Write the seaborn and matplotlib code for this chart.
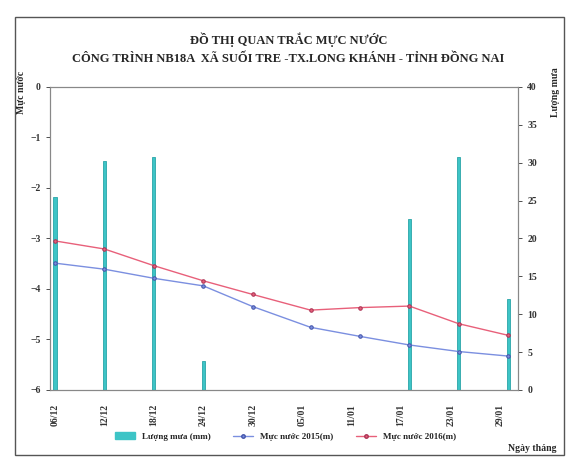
import pandas as pd
import numpy as np
import matplotlib
matplotlib.use("Agg")
import matplotlib.pyplot as plt
from matplotlib.patches import Rectangle, Patch
from matplotlib.lines import Line2D
import seaborn as sns

dates = ['2015-12-06', '2015-12-12', '2015-12-18', '2015-12-24', '2015-12-30',
         '2016-01-06', '2016-01-12', '2016-01-18', '2016-01-24', '2016-01-30']
level_2015 = [-3.49, -3.61, -3.79, -3.94, -4.35, -4.76, -4.94, -5.11, -5.24, -5.33]
level_2016 = [-3.05, -3.21, -3.54, -3.84, -4.11, -4.42, -4.37, -4.34, -4.69, -4.92]
rain_dates = ['2015-12-06', '2015-12-12', '2015-12-18', '2015-12-24',
              '2016-01-18', '2016-01-24', '2016-01-30']
rain_mm = [25.5, 30.2, 30.8, 3.8, 22.5, 30.8, 12.0]
tick_dates = ['2015-12-06', '2015-12-12', '2015-12-18', '2015-12-24', '2015-12-30',
              '2016-01-05', '2016-01-11', '2016-01-17', '2016-01-23', '2016-01-29']
tick_labels = ['06/12', '12/12', '18/12', '24/12', '30/12',
               '05/01', '11/01', '17/01', '23/01', '29/01']

sns.set_style("white")
plt.rcParams['font.family'] = ['Liberation Serif', 'DejaVu Serif']
plt.rcParams['font.weight'] = 'bold'

df = pd.DataFrame({'date': pd.to_datetime(dates), 'y2015': level_2015, 'y2016': level_2016})
rain = pd.DataFrame({'date': pd.to_datetime(rain_dates), 'mm': rain_mm})

fig = plt.figure(figsize=(5.71, 4.62), dpi=100)
ax = fig.add_axes([0.0876, 0.156, 0.82, 0.656])
ax2 = ax.twinx()

c_rain = '#3DC4C6'
c_15 = '#7B8FE0'
c_16 = '#E8607A'

ax2.bar(rain['date'], rain['mm'], width=0.38, color=c_rain, edgecolor='#2aa5a8',
        linewidth=0.6, zorder=1)
ax2.set_ylim(0, 40)
ax2.set_yticks(np.arange(0, 41, 5))

sns.lineplot(data=df, x='date', y='y2015', ax=ax, color=c_15, lw=1,
             marker='o', markersize=2.5, markeredgecolor='#4455aa')
sns.lineplot(data=df, x='date', y='y2016', ax=ax, color=c_16, lw=1,
             marker='o', markersize=2.5, markeredgecolor='#aa3355')
ax.set_zorder(2)
ax.patch.set_visible(False)

ax.set_ylim(-6, 0)
ax.set_yticks(np.arange(-6, 1, 1))
x0 = pd.Timestamp('2015-12-06')
ax.set_xlim(x0 - pd.Timedelta(days=0.6), x0 + pd.Timedelta(days=56.2))
ax.set_xticks(pd.to_datetime(tick_dates))
ax.set_xticklabels(tick_labels, rotation=90, fontsize=7, fontweight='bold')
ax.set_xlabel('')
ax.set_ylabel('')

for a in (ax, ax2):
    a.tick_params(axis='both', labelsize=7, length=3, width=0.6, direction='out', colors='#333333')
    for s in a.spines.values():
        s.set_color('#888888')
        s.set_linewidth(0.8)
ax.tick_params(axis='x', pad=7)

fig.text(0.505, 0.905, 'ĐỒ THỊ QUAN TRẮC MỰC NƯỚC', ha='center', fontsize=9, fontweight='bold')
fig.text(0.505, 0.866, 'CÔNG TRÌNH NB18A  XÃ SUỐI TRE -TX.LONG KHÁNH - TỈNH ĐỒNG NAI',
         ha='center', fontsize=9, fontweight='bold')
fig.text(0.038, 0.80, 'Mực nước', rotation=90, ha='center', va='center', fontsize=7, fontweight='bold')
fig.text(0.972, 0.80, 'Lượng mưa', rotation=90, ha='center', va='center', fontsize=7, fontweight='bold')
fig.text(0.975, 0.03, 'Ngày tháng', ha='right', va='center', fontsize=7, fontweight='bold')

handles = [Patch(color=c_rain),
           Line2D([], [], color=c_15, lw=1, marker='o', markersize=2.5, markeredgecolor='#4455aa'),
           Line2D([], [], color=c_16, lw=1, marker='o', markersize=2.5, markeredgecolor='#aa3355')]
labels = ['Lượng mưa (mm)', 'Mực nước 2015(m)', 'Mực nước 2016(m)']
fig.legend(handles, labels, loc='center', bbox_to_anchor=(0.5, 0.055), ncol=3, frameon=False,
           fontsize=6.5, handlelength=2.2, columnspacing=2.5, handleheight=0.7)

fig.patches.append(Rectangle((0.026, 0.015), 0.962, 0.948, transform=fig.transFigure,
                             fill=False, edgecolor='#555555', lw=1))

fig.savefig('out.png', dpi=100)
